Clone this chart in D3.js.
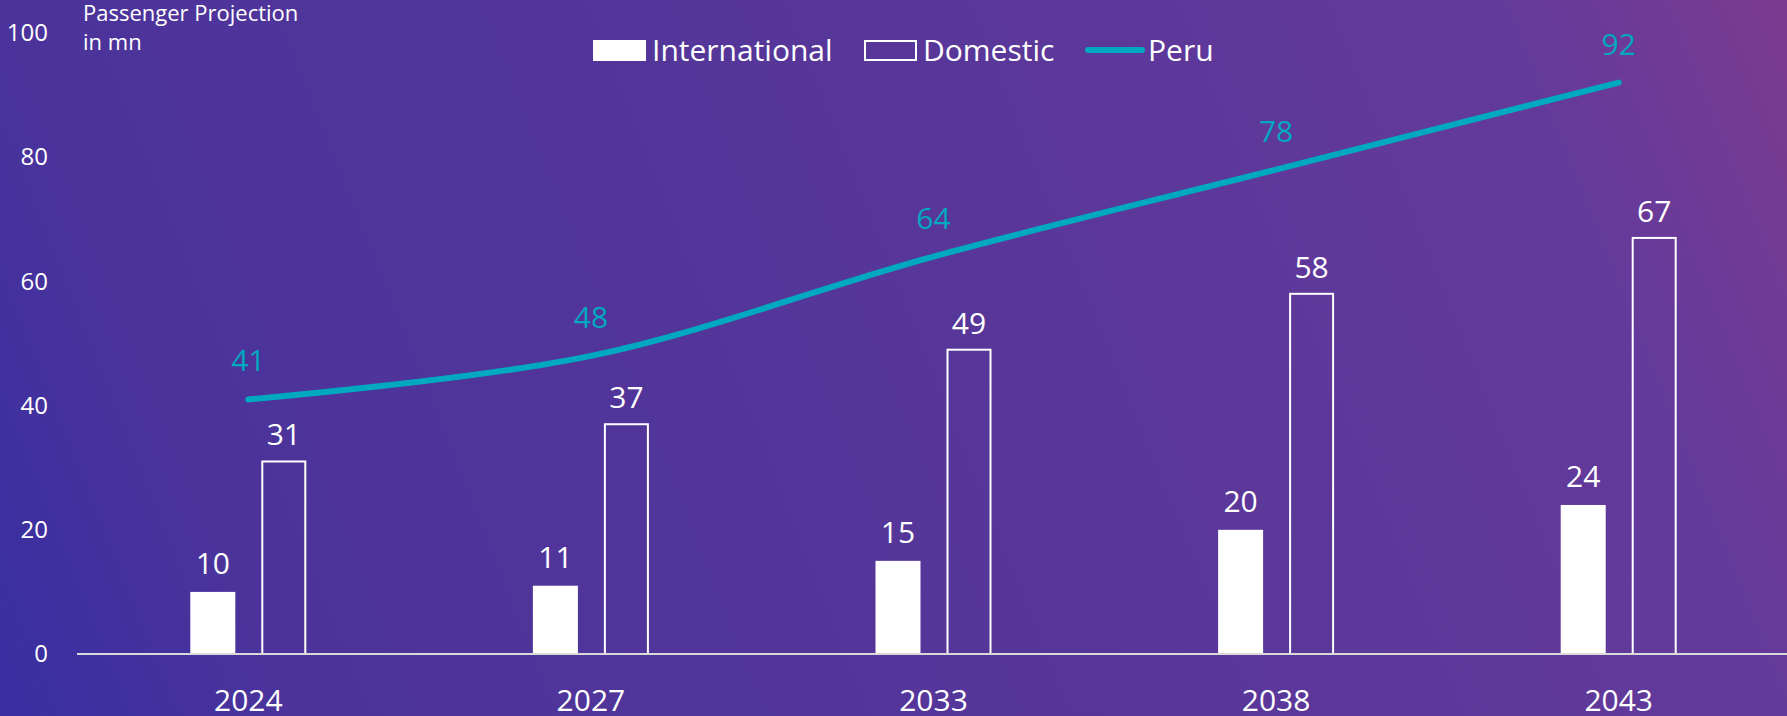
<!DOCTYPE html>
<html>
<head>
<meta charset="utf-8">
<script src="https://cdn.jsdelivr.net/npm/d3@7"></script>
<style>
  html, body { margin: 0; padding: 0; overflow: hidden; }
  svg { display: block; font-family: "Open Sans", "Noto Sans", sans-serif; }
</style>
</head>
<body>
<div id="chart"></div>
<script>
// Données du graphique
const years = ['2024', '2027', '2033', '2038', '2043'];
const international = [10, 11, 15, 20, 24];
const domestic = [31, 37, 49, 58, 67];
const peru = [41, 48, 64, 78, 92];
const yTicks = [0, 20, 40, 60, 80, 100];

const W = 1787, H = 716;
const teal = '#00a9bf';

const svg = d3.select('#chart').append('svg')
    .attr('width', W)
    .attr('height', H);

// Fond dégradé
const grad = svg.append('defs').append('linearGradient')
    .attr('id', 'bg')
    .attr('gradientUnits', 'userSpaceOnUse')
    .attr('x1', 0).attr('y1', H)
    .attr('x2', W).attr('y2', 0);
[[0, '#382ea2'], [0.14, '#4b339b'], [0.5, '#563699'], [0.86, '#633a9b'], [1, '#7b3b90']]
    .forEach(([o, c]) => grad.append('stop').attr('offset', o).attr('stop-color', c));

svg.append('rect').attr('width', W).attr('height', H).attr('fill', 'url(#bg)');

// Échelles
const x = d3.scaleBand().domain(years).range([77, 1790]).padding(0);
const y = d3.scaleLinear().domain([0, 100]).range([654, 33]);
const cx = d => x(d) + x.bandwidth() / 2;

// Axe Y (étiquettes seulement)
svg.append('g')
    .attr('transform', 'translate(48,0)')
    .call(d3.axisLeft(y).tickValues(yTicks).tickSize(0).tickPadding(0))
    .call(g => g.select('.domain').remove())
    .call(g => g.selectAll('text')
        .attr('fill', '#ffffff')
        .style('font-size', '24px')
        .style('font-family', '"Open Sans", sans-serif'));

// Titre de l'axe
svg.append('text')
    .attr('x', 83).attr('y', 21)
    .attr('fill', '#ffffff')
    .style('font-size', '22px')
    .selectAll('tspan')
    .data(['Passenger Projection', 'in mn'])
    .join('tspan')
    .attr('x', 83)
    .attr('dy', (d, i) => i === 0 ? 0 : 29)
    .text(d => d);

// Barres internationales
const barW = 45;
svg.append('g').selectAll('rect')
    .data(international)
    .join('rect')
    .attr('x', (d, i) => cx(years[i]) - 58)
    .attr('y', d => y(d))
    .attr('width', barW)
    .attr('height', d => y(0) - y(d))
    .attr('fill', '#ffffff');

// Barres domestiques (contour)
svg.append('g').selectAll('rect')
    .data(domestic)
    .join('rect')
    .attr('x', (d, i) => cx(years[i]) + 14)
    .attr('y', d => y(d))
    .attr('width', barW - 2)
    .attr('height', d => y(0) - y(d))
    .attr('fill', 'none')
    .attr('stroke', '#ffffff')
    .attr('stroke-width', 2);

// Axe X
svg.append('line')
    .attr('x1', 77).attr('x2', W)
    .attr('y1', y(0)).attr('y2', y(0))
    .attr('stroke', '#d9d9d9')
    .attr('stroke-width', 2);

svg.append('g').selectAll('text')
    .data(years)
    .join('text')
    .attr('x', d => cx(d))
    .attr('y', 711)
    .attr('text-anchor', 'middle')
    .attr('fill', '#ffffff')
    .style('font-size', '30px')
    .text(d => d);

// Étiquettes des barres
svg.append('g').selectAll('text')
    .data(international)
    .join('text')
    .attr('x', (d, i) => cx(years[i]) - 35.5)
    .attr('y', d => y(d) - 18)
    .attr('text-anchor', 'middle')
    .attr('fill', '#ffffff')
    .style('font-size', '30px')
    .text(d => d);

svg.append('g').selectAll('text')
    .data(domestic)
    .join('text')
    .attr('x', (d, i) => cx(years[i]) + 35.5)
    .attr('y', d => y(d) - 16)
    .attr('text-anchor', 'middle')
    .attr('fill', '#ffffff')
    .style('font-size', '30px')
    .text(d => d);

// Ligne Pérou
const line = d3.line()
    .x((d, i) => cx(years[i]))
    .y(d => y(d))
    .curve(d3.curveCatmullRom.alpha(0));

svg.append('path')
    .datum(peru)
    .attr('d', line)
    .attr('fill', 'none')
    .attr('stroke', teal)
    .attr('stroke-width', 6)
    .attr('stroke-linecap', 'round');

svg.append('g').selectAll('text')
    .data(peru)
    .join('text')
    .attr('x', (d, i) => cx(years[i]))
    .attr('y', d => y(d) - 28)
    .attr('text-anchor', 'middle')
    .attr('fill', teal)
    .style('font-size', '30px')
    .text(d => d);

// Légende
const legend = svg.append('g');
legend.append('rect')
    .attr('x', 593).attr('y', 40).attr('width', 53).attr('height', 21)
    .attr('fill', '#ffffff');
legend.append('text')
    .attr('x', 652).attr('y', 61)
    .attr('fill', '#ffffff').style('font-size', '30px')
    .text('International');
legend.append('rect')
    .attr('x', 865).attr('y', 41).attr('width', 51).attr('height', 19)
    .attr('fill', 'none').attr('stroke', '#ffffff').attr('stroke-width', 2);
legend.append('text')
    .attr('x', 923).attr('y', 61)
    .attr('fill', '#ffffff').style('font-size', '30px')
    .text('Domestic');
legend.append('line')
    .attr('x1', 1088).attr('x2', 1142).attr('y1', 50).attr('y2', 50)
    .attr('stroke', teal).attr('stroke-width', 6).attr('stroke-linecap', 'round');
legend.append('text')
    .attr('x', 1148).attr('y', 61)
    .attr('fill', '#ffffff').style('font-size', '30px')
    .text('Peru');
</script>
</body>
</html>
